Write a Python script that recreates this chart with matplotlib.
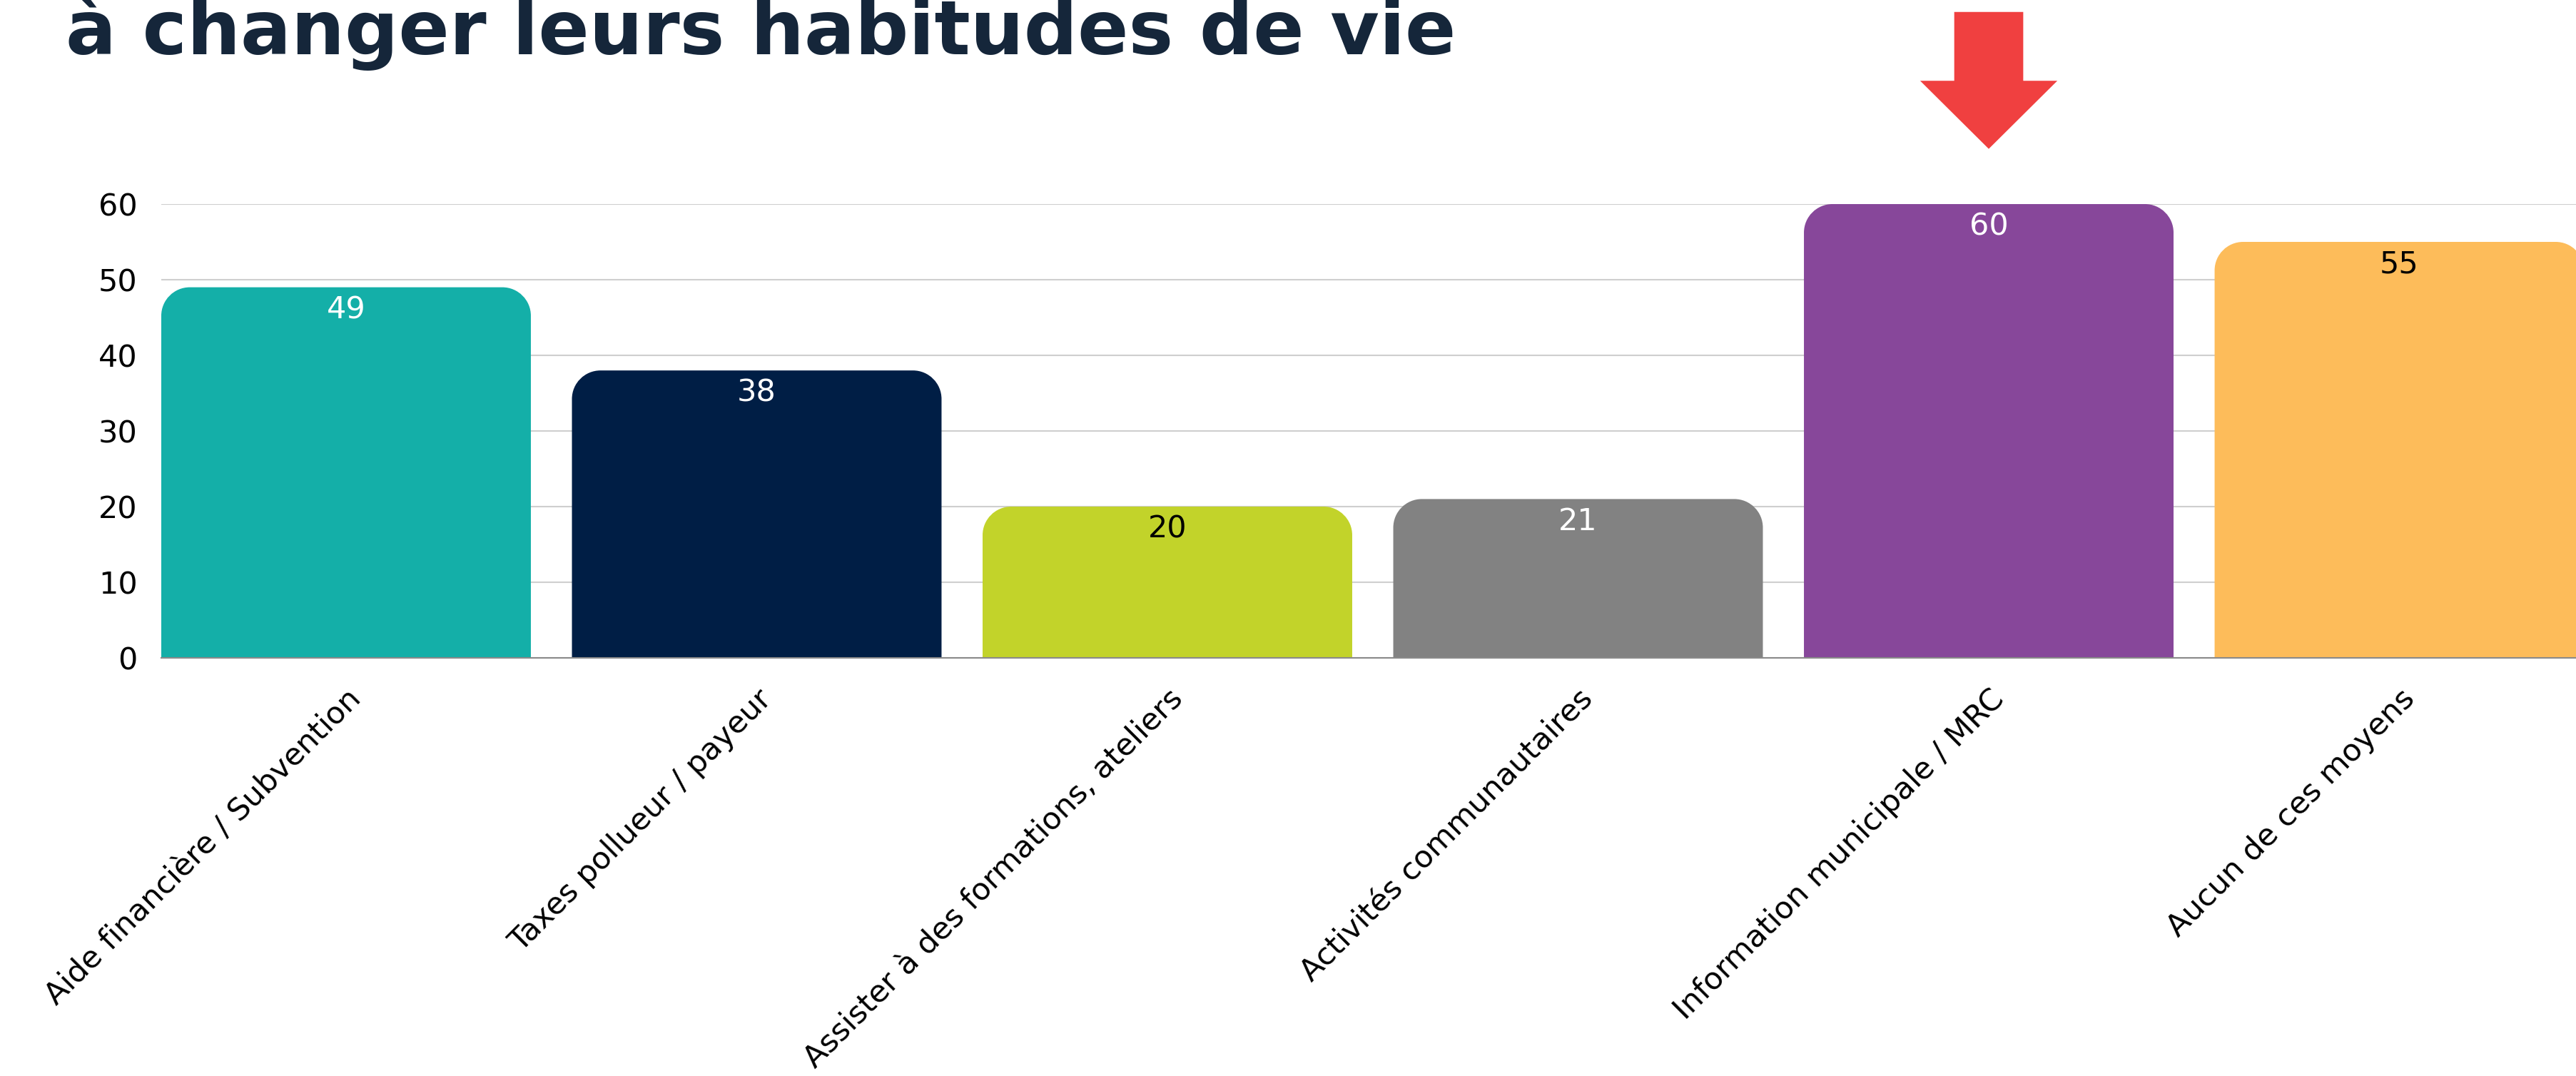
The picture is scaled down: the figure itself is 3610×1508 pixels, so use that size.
import matplotlib
matplotlib.use("Agg")
import matplotlib.pyplot as plt
from matplotlib.path import Path
from matplotlib.patches import PathPatch, Polygon

# ---------------- data ----------------
categories = [
    "Aide financière / Subvention",
    "Taxes pollueur / payeur",
    "Assister à des formations, ateliers",
    "Activités communautaires",
    "Information municipale / MRC",
    "Aucun de ces moyens",
]
values = [49, 38, 20, 21, 60, 55]
bar_colors = ["#14AFA8", "#001E45", "#C2D32A", "#828282", "#87479A", "#FDBC5A"]
value_colors = ["white", "white", "black", "white", "white", "black"]
yticks = [0, 10, 20, 30, 40, 50, 60]
title_text = "à changer leurs habitudes de vie"

# ---------------- figure ----------------
W, H = 3610, 1508
DPI = 100
plt.rcParams['font.family'] = ['DejaVu Sans']
fig = plt.figure(figsize=(W / DPI, H / DPI), dpi=DPI)
fig.patch.set_facecolor("white")

ax_left_px, ax_right_px = 226, 3621.5
ax_top_px, ax_bottom_px = 286, 922
ax = fig.add_axes([ax_left_px / W, 1 - ax_bottom_px / H,
                   (ax_right_px - ax_left_px) / W, (ax_bottom_px - ax_top_px) / H])

x = list(range(len(categories)))
bars = ax.bar(x, values, width=0.9, color=bar_colors, zorder=3)
ax.set_xlim(-0.45, len(categories) - 0.55)
ax.set_ylim(0, 60)

# rounded top corners
p0 = ax.transData.transform((0, 0))
p1 = ax.transData.transform((1, 1))
r_px = 40
rx = r_px / (p1[0] - p0[0])
ry = r_px / (p1[1] - p0[1])
k = 0.5523
for rect, c in zip(bars, bar_colors):
    x0 = rect.get_x()
    w = rect.get_width()
    h = rect.get_height()
    x1 = x0 + w
    verts = [
        (x0, 0), (x0, h - ry),
        (x0, h - ry + k * ry), (x0 + rx - k * rx, h), (x0 + rx, h),
        (x1 - rx, h),
        (x1 - rx + k * rx, h), (x1, h - ry + k * ry), (x1, h - ry),
        (x1, 0), (x0, 0),
    ]
    codes = [Path.MOVETO, Path.LINETO,
             Path.CURVE4, Path.CURVE4, Path.CURVE4,
             Path.LINETO,
             Path.CURVE4, Path.CURVE4, Path.CURVE4,
             Path.LINETO, Path.CLOSEPOLY]
    ax.add_patch(PathPatch(Path(verts, codes), facecolor=c, edgecolor="none", zorder=3))
    rect.set_visible(False)

# value labels
for xi, v, tc in zip(x, values, value_colors):
    ax.annotate(str(v), xy=(xi, v), xytext=(0, -31.5), textcoords="offset points",
                ha="center", va="baseline", color=tc, fontsize=31, zorder=5)

# axes styling
for s in ["top", "right", "left"]:
    ax.spines[s].set_visible(False)
ax.spines["bottom"].set_color("#8A8A8A")
ax.spines["bottom"].set_linewidth(1.5)
ax.spines["bottom"].set_zorder(4)
ax.set_yticks(yticks)
ax.yaxis.grid(True, color="#CFCFCF", linewidth=1.5, zorder=0)
ax.set_axisbelow(True)
ax.tick_params(axis="y", length=0, pad=24, labelsize=31, labelcolor="black")
ax.tick_params(axis="x", length=0, pad=26)
ax.set_xticks(x)
ax.set_xticklabels(categories, rotation=45, ha="right", va="top",
                   rotation_mode="anchor", fontsize=31, color="black")

# red arrow pointing to max bar
imax = values.index(max(values))
vmax = values[imax]
sx, hx = 0.084, 0.167
arrow = Polygon([
    (imax - sx, vmax + 25.4), (imax + sx, vmax + 25.4), (imax + sx, vmax + 16.3),
    (imax + hx, vmax + 16.3), (imax, vmax + 7.3), (imax - hx, vmax + 16.3),
    (imax - sx, vmax + 16.3)], closed=True, facecolor="#F04040",
    edgecolor="none", clip_on=False, zorder=6)
ax.add_patch(arrow)

# title (second line, partially cut at top as in the reference)
t = fig.text(92 / W, 1 - 76 / H, title_text, ha="left", va="baseline",
             fontsize=70, fontweight="bold", color="#15263A")
renderer = fig.canvas.get_renderer()
bb = t.get_window_extent(renderer)
t.set_fontsize(70 * 1948 / bb.width)

fig.savefig("out.png", dpi=DPI, facecolor="white")
